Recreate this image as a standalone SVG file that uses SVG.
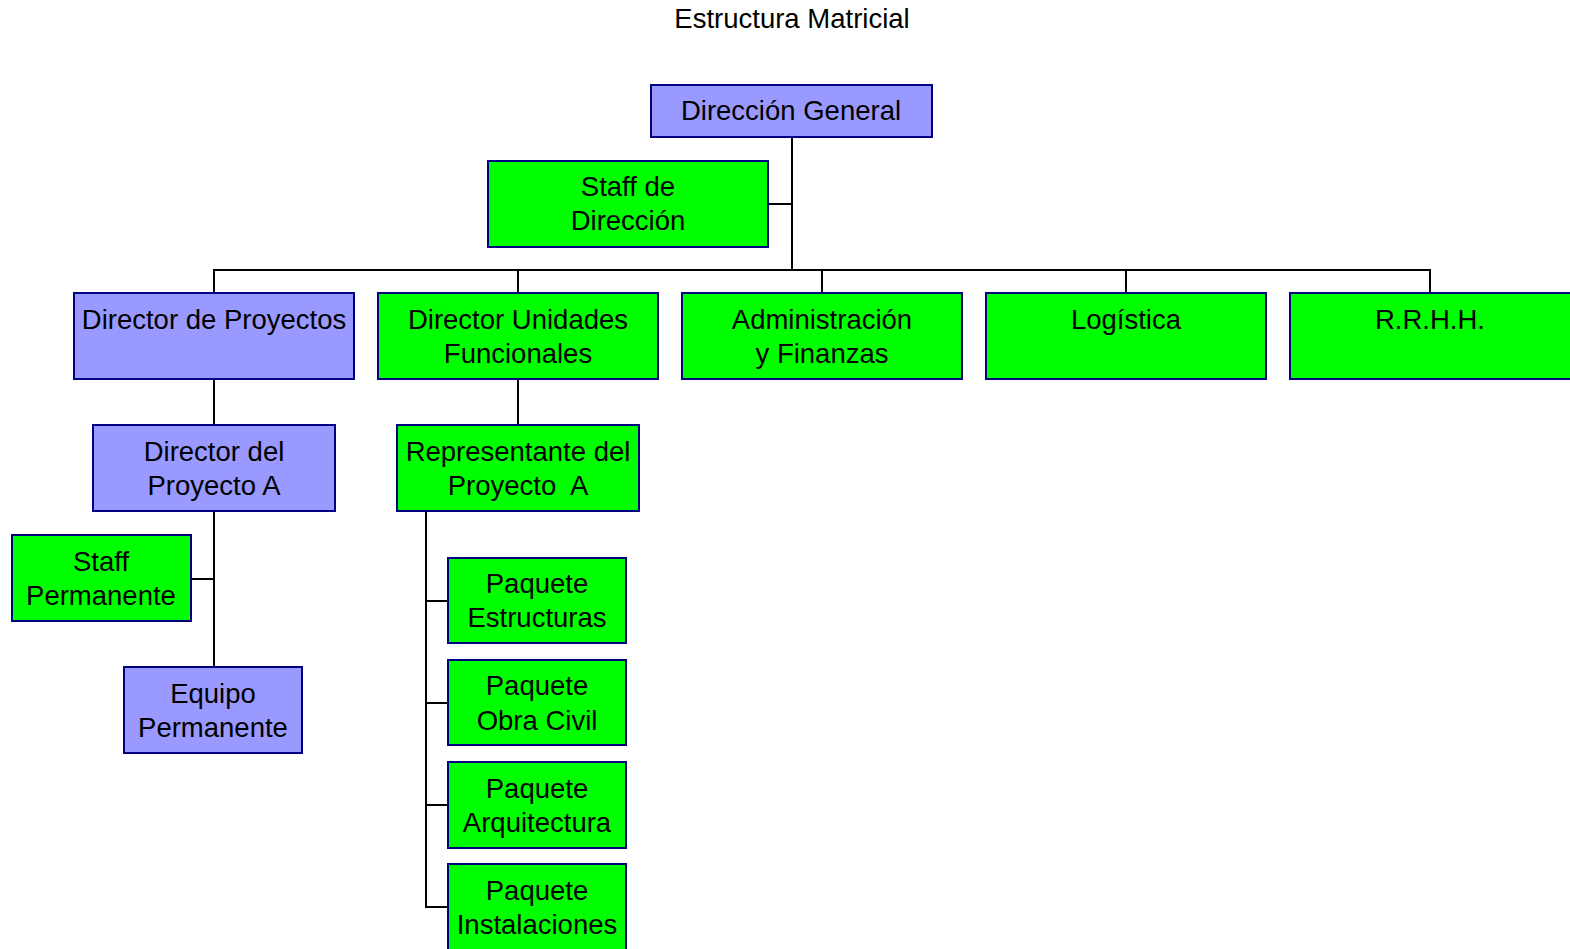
<svg xmlns="http://www.w3.org/2000/svg" width="1570" height="949" viewBox="0 0 1570 949">
  <style>
    .box rect { stroke: #000080; stroke-width: 2; }
    .blue rect { fill: #9999ff; }
    .green rect { fill: #00ff00; }
    text { font-family: "Liberation Sans", Arial, sans-serif; font-size: 27.5px; fill: #000; text-anchor: middle; }
    .links path { fill: none; stroke: #000; stroke-width: 2; }
  </style>
  <rect width="1570" height="949" fill="#ffffff"/>
  <text x="792" y="28">Estructura Matricial</text>

  <!-- connectors -->
  <g class="links">
    <path d="M792 137 V270"/>
    <path d="M768 204 H792"/>
    <path d="M214 293 V270 H1430 V293"/>
    <path d="M518 270 V293 M822 270 V293 M1126 270 V293"/>
    <path d="M214 379 V425"/>
    <path d="M214 511 V667"/>
    <path d="M191 579 H214"/>
    <path d="M518 379 V425"/>
    <path d="M426 511 V907 H448"/>
    <path d="M426 601 H448 M426 703 H448 M426 805 H448"/>
  </g>

  <g id="direccion-general" class="box blue">
    <rect x="651" y="85" width="281" height="52"/>
    <text x="791" y="120">Dirección General</text>
  </g>
  <g id="staff-direccion" class="box green">
    <rect x="488" y="161" width="280" height="86"/>
    <text x="628" y="196">Staff de</text>
    <text x="628" y="230">Dirección</text>
  </g>

  <g id="director-proyectos" class="box blue">
    <rect x="74" y="293" width="280" height="86"/>
    <text x="214" y="329">Director de Proyectos</text>
  </g>
  <g id="director-unidades" class="box green">
    <rect x="378" y="293" width="280" height="86"/>
    <text x="518" y="329">Director Unidades</text>
    <text x="518" y="363">Funcionales</text>
  </g>
  <g id="administracion" class="box green">
    <rect x="682" y="293" width="280" height="86"/>
    <text x="822" y="329">Administración</text>
    <text x="822" y="363">y Finanzas</text>
  </g>
  <g id="logistica" class="box green">
    <rect x="986" y="293" width="280" height="86"/>
    <text x="1126" y="329">Logística</text>
  </g>
  <g id="rrhh" class="box green">
    <rect x="1290" y="293" width="284" height="86"/>
    <text x="1430" y="329">R.R.H.H.</text>
  </g>

  <g id="director-proyecto-a" class="box blue">
    <rect x="93" y="425" width="242" height="86"/>
    <text x="214" y="461">Director del</text>
    <text x="214" y="495">Proyecto A</text>
  </g>
  <g id="staff-permanente" class="box green">
    <rect x="12" y="535" width="179" height="86"/>
    <text x="101" y="571">Staff</text>
    <text x="101" y="605">Permanente</text>
  </g>
  <g id="equipo-permanente" class="box blue">
    <rect x="124" y="667" width="178" height="86"/>
    <text x="213" y="703">Equipo</text>
    <text x="213" y="737">Permanente</text>
  </g>

  <g id="representante-proyecto-a" class="box green">
    <rect x="397" y="425" width="242" height="86"/>
    <text x="518" y="461">Representante del</text>
    <text x="518" y="495" xml:space="preserve">Proyecto  A</text>
  </g>
  <g id="paquete-estructuras" class="box green">
    <rect x="448" y="558" width="178" height="85"/>
    <text x="537" y="593">Paquete</text>
    <text x="537" y="627">Estructuras</text>
  </g>
  <g id="paquete-obra-civil" class="box green">
    <rect x="448" y="660" width="178" height="85"/>
    <text x="537" y="695">Paquete</text>
    <text x="537" y="730">Obra Civil</text>
  </g>
  <g id="paquete-arquitectura" class="box green">
    <rect x="448" y="762" width="178" height="86"/>
    <text x="537" y="798">Paquete</text>
    <text x="537" y="832">Arquitectura</text>
  </g>
  <g id="paquete-instalaciones" class="box green">
    <rect x="448" y="864" width="178" height="90"/>
    <text x="537" y="900">Paquete</text>
    <text x="537" y="934">Instalaciones</text>
  </g>
</svg>
